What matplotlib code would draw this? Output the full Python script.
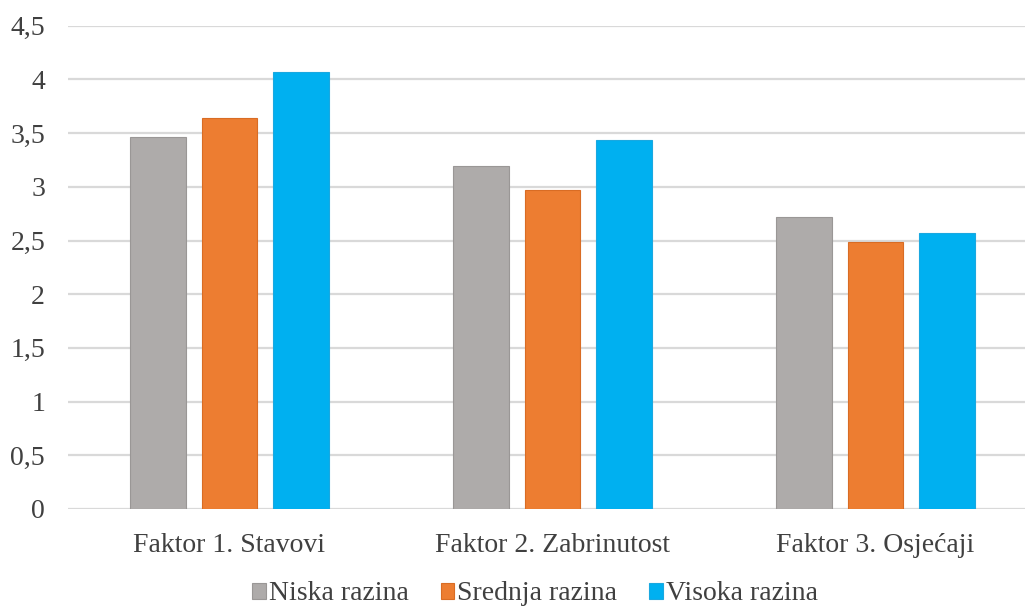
import matplotlib
matplotlib.use("Agg")
import matplotlib.pyplot as plt
import numpy as np
from matplotlib.ticker import FuncFormatter

categories = ["Faktor 1. Stavovi", "Faktor 2. Zabrinutost", "Faktor 3. Osjećaji"]
series_names = ["Niska razina", "Srednja razina", "Visoka razina"]
niska = [3.46, 3.19, 2.72]
srednja = [3.64, 2.97, 2.49]
visoka = [4.07, 3.44, 2.57]
yticks = [0, 0.5, 1, 1.5, 2, 2.5, 3, 3.5, 4, 4.5]

colors = ["#AEABAA", "#ED7D31", "#00B0F0"]
edges = ["#9a9796", "#d96c24", "#1aa8e0"]

plt.rcParams['font.family'] = ['Liberation Serif', 'DejaVu Serif']

fig = plt.figure(figsize=(10.25, 6.1), dpi=100)
ax = fig.add_axes([68/1025, 101/610, 969/1025, 483.3/610])

x = np.arange(len(categories))
width = 0.172
step = 0.221
for i, (vals, name) in enumerate(zip([niska, srednja, visoka], series_names)):
    ax.bar(x + (i - 1) * step, vals, width, color=colors[i], edgecolor=edges[i],
           linewidth=0.8, label=name, zorder=3)

ax.set_xlim(-0.5, 2.5)
ax.set_ylim(0, 4.5)
ax.set_yticks(yticks)
ax.yaxis.set_major_formatter(FuncFormatter(lambda v, p: ("%g" % v).replace(".", ",")))
ax.set_xticks(x)
ax.set_xticklabels(categories)
ax.grid(axis="y", color="#d9d9d9", linewidth=1.6, zorder=0)
for s in ax.spines.values():
    s.set_visible(False)
ax.tick_params(axis="both", length=0, labelsize=20, colors="#404040")
ax.tick_params(axis="y", pad=16.5)
ax.tick_params(axis="x", pad=17)

# legend sits at the very bottom edge, as in the reference
fig.legend(loc="center", bbox_to_anchor=(535/1025, 1 - 594/610), ncol=3,
           frameon=False, fontsize=20, handlelength=0.5, handleheight=0.5,
           handletextpad=0.1, columnspacing=1.15, labelcolor="#404040")

plt.savefig("out.png", dpi=100)
